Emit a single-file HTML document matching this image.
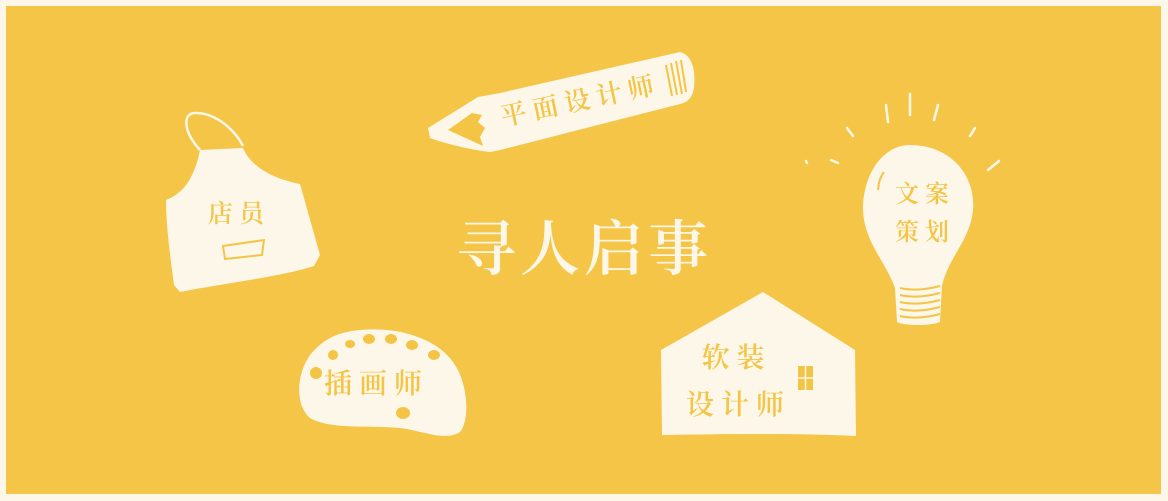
<!DOCTYPE html>
<html><head><meta charset="utf-8"><style>
html,body{margin:0;padding:0;background:#FDF7EA;}
svg{display:block}
.t{font-family:"Liberation Serif","Noto Serif CJK SC","Noto Sans CJK SC",serif;fill:#F4C445;font-weight:600;}
</style></head><body>
<svg width="1168" height="501" viewBox="0 0 1168 501">
<rect x="0" y="0" width="1168" height="501" fill="#FDF7EA"/>
<rect x="6" y="6" width="1155" height="488" fill="#F4C546"/>

<g>
<path d="M200,150 C182,130 183,112 196,113 C212,113 232,125 243,146" fill="none" stroke="#FDF7EA" stroke-width="2.5"/>
<path d="M200,150 L243,148 C250,165 270,178 300,184 L320,255 L314,266 C280,277 220,284 180,292 L174,285 C170,255 166,225 166,200 C182,194 194,180 200,150 Z" fill="#FDF7EA"/>
<text class="t" x="236" y="222" font-size="25" text-anchor="middle">店 员</text>
<path d="M223,246 L264,240 L262,255 L225,259 Z" fill="none" stroke="#F4C445" stroke-width="2"/>
</g>

<g>
<path d="M428,128 L478,97 L500,93 L680,52 C692,55 696,70 694,88 C692,100 685,103 680,104 L500,150 L490,152 C470,150 440,142 430,138 Z" fill="#FDF7EA"/>
<path d="M448,130 L472,113 L482,115 L478,122 L485,128 L480,137 L483,146 Z" fill="#F4C445"/>
<g stroke="#F4C445" stroke-width="2" fill="none"><path d="M666,65 L672,96"/><path d="M671,63 L677,95"/><path d="M676,61 L682,94"/><path d="M681,60 L686,92"/></g>
<text class="t" x="577" y="110" font-size="26" text-anchor="middle" transform="rotate(-12 577 100)">平 面 设 计 师</text>
</g>

<g>
<g stroke="#FDF7EA" stroke-width="2.5" stroke-linecap="round">
<line x1="910" y1="94" x2="910" y2="115"/><line x1="886" y1="105" x2="888" y2="122"/><line x1="938" y1="105" x2="934" y2="120"/>
<line x1="847" y1="128" x2="853" y2="136"/><line x1="975" y1="128" x2="970" y2="136"/>
<line x1="831" y1="160" x2="838" y2="163"/><line x1="999" y1="161" x2="988" y2="170"/><line x1="806" y1="161" x2="807" y2="163"/>
</g>
<path d="M910,145 C950,145 976,175 973,210 C970,240 950,255 942,285 L940,322 C930,326 905,326 897,322 L895,288 C885,260 862,240 863,205 C865,170 885,145 910,145 Z" fill="#FDF7EA"/>
<g stroke="#F4C445" stroke-width="2" fill="none"><path d="M900,288 Q918,292 940,286"/><path d="M900,295 Q918,299 940,293"/><path d="M900,302 Q918,306 940,300"/><path d="M900,309 Q918,313 940,307"/><path d="M900,316 Q918,320 940,314"/><path d="M878,190 Q879,178 884,172"/></g>
<text class="t" x="922" y="202" font-size="24" text-anchor="middle">文 案</text>
<text class="t" x="922" y="240" font-size="24" text-anchor="middle">策 划</text>
</g>

<g>
<path d="M360,330 C400,326 440,340 455,365 C468,385 470,420 460,432 C445,442 420,430 400,428 C370,425 330,430 310,418 C295,405 296,375 310,355 C325,337 340,332 360,330 Z" fill="#FDF7EA"/>
<g fill="#F4C445"><ellipse cx="316" cy="373" rx="6" ry="6"/><ellipse cx="333" cy="355" rx="5" ry="5"/><ellipse cx="350" cy="344" rx="5" ry="4"/><ellipse cx="369" cy="339" rx="6" ry="5"/><ellipse cx="391" cy="339" rx="6" ry="5"/><ellipse cx="412" cy="345" rx="6" ry="5"/><ellipse cx="434" cy="355" rx="6" ry="5"/><ellipse cx="403" cy="413" rx="7" ry="6"/></g>
<text class="t" x="373" y="393" font-size="28" text-anchor="middle">插 画 师</text>
</g>

<g>
<path d="M763,292 L855,350 L856,436 C800,433 720,434 662,435 L661,350 Z" fill="#FDF7EA"/>
<rect x="798" y="366" width="15" height="24" fill="#F4C445"/>
<g stroke="#FDF7EA" stroke-width="1.5"><line x1="805.5" y1="366" x2="805.5" y2="390"/><line x1="798" y1="378" x2="813" y2="378"/></g>
<text class="t" x="733" y="367" font-size="28" text-anchor="middle">软 装</text>
<text class="t" x="735" y="414" font-size="28" text-anchor="middle">设 计 师</text>
</g>

<text x="584" y="270" font-size="60" font-weight="600" text-anchor="middle" letter-spacing="4" fill="#FDF7EA" font-family="'Liberation Serif','Noto Serif CJK SC',serif">寻人启事</text>
</svg>
</body></html>
